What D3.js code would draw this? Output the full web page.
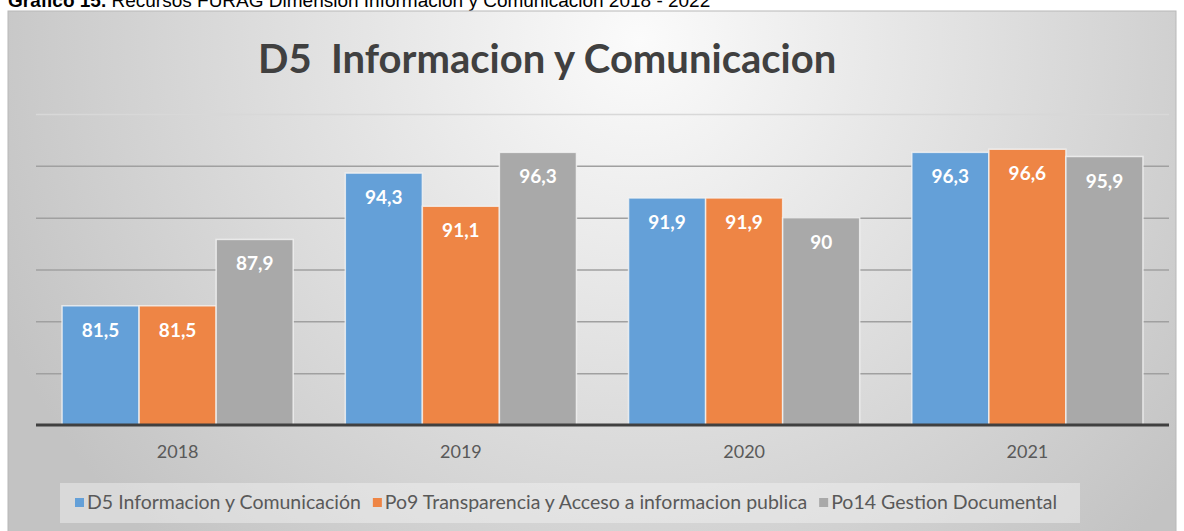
<!DOCTYPE html>
<html>
<head>
<meta charset="utf-8">
<script src="https://cdn.jsdelivr.net/npm/d3@7"></script>
<style>
  html, body { margin: 0; padding: 0; background: #fff; }
  svg { display: block; }
</style>
</head>
<body>
<div id="chart"></div>
<script>
// values
const years = ['2018', '2019', '2020', '2021'];
const seriesNames = [
  'D5 Informacion y Comunicación',
  'Po9 Transparencia y Acceso a informacion publica',
  'Po14 Gestion Documental'
];
const d5 = [81.5, 94.3, 91.9, 96.3];
const po9 = [81.5, 91.1, 91.9, 96.6];
const po14 = [87.9, 96.3, 90, 95.9];
const yTicks = [75, 80, 85, 90, 95, 100];

const colors = ['#64a0d8', '#ee8545', '#a9a9a9'];

const width = 1184, height = 531;
const svg = d3.select('#chart').append('svg')
  .attr('width', width)
  .attr('height', height);

let defs = svg.append('defs');
let grad = defs.append('radialGradient')
  .attr('id', 'bg')
  .attr('gradientUnits', 'userSpaceOnUse')
  .attr('cx', 640).attr('cy', 40).attr('r', 700);
grad.append('stop').attr('offset', 0).attr('stop-color', '#fbfbfb');
grad.append('stop').attr('offset', 1).attr('stop-color', '#c3c3c3');

// caption of the document, cut at the top like in the source
svg.append('text')
  .attr('x', 8)
  .attr('y', 7)
  .style('font', '19px "Liberation Sans", Arial, sans-serif')
  .style('fill', '#000')
  .call(t => {
    t.append('tspan').style('font-weight', 'bold').text('Gráfico 15.');
    t.append('tspan').text(' Recursos FURAG Dimensión Información y Comunicación 2018 - 2022');
  });

// chart area
svg.append('rect')
  .attr('x', 8).attr('y', 11)
  .attr('width', 1168).attr('height', 530)
  .attr('fill', 'url(#bg)')
  .attr('stroke', '#b8b8b8')
  .attr('stroke-width', 1);

svg.append('text')
  .attr('x', 258)
  .attr('y', 73)
  .style('font', 'bold 40px Lato, "Open Sans", sans-serif')
  .style('fill', '#404040')
  .attr('xml:space', 'preserve')
  .text('D5  Informacion y Comunicacion');

let x = d3.scaleBand()
  .domain(years)
  .range([36, 1169])
  .paddingInner(0.184)
  .paddingOuter(0.092);

let x1 = d3.scaleBand()
  .domain(d3.range(seriesNames.length))
  .range([0, x.bandwidth()]);

let y = d3.scaleLinear()
  .domain([70, 100])
  .range([425, 114]);

// gridlines
let yAxis = d3.axisLeft(y)
  .tickValues(yTicks)
  .tickSize(-(1169 - 36))
  .tickFormat('');
svg.append('g')
  .attr('transform', 'translate(36,0)')
  .call(yAxis)
  .call(g => g.select('.domain').remove())
  .call(g => g.selectAll('.tick line')
    .attr('stroke', d => d === 100 ? '#d8d8d8' : '#a0a0a0')
    .attr('stroke-width', 1.5));

let data = [d5, po9, po14];
let rows = years.map((yr, i) => ({
  year: yr,
  values: data.map((s, j) => ({ idx: j, value: s[i] }))
}));

let groups = svg.append('g').selectAll('g')
  .data(rows)
  .enter()
  .append('g')
    .attr('transform', d => `translate(${x(d.year)},0)`);

groups.selectAll('rect')
  .data(d => d.values)
  .enter()
  .append('rect')
    .attr('x', d => x1(d.idx))
    .attr('y', d => y(d.value))
    .attr('width', x1.bandwidth())
    .attr('height', d => y(70) - y(d.value))
    .attr('fill', d => colors[d.idx])
    .attr('stroke', '#f4f4f4')
    .attr('stroke-opacity', 0.8)
    .attr('stroke-width', 1.5);

groups.selectAll('text')
  .data(d => d.values)
  .enter()
  .append('text')
    .attr('x', d => x1(d.idx) + x1.bandwidth() / 2)
    .attr('y', d => y(d.value) + 31)
    .attr('text-anchor', 'middle')
    .style('font', 'bold 19px Lato, "Open Sans", sans-serif')
    .style('fill', '#fff')
    .text(d => String(d.value).replace('.', ','));

// baseline
let xAxis = d3.axisBottom(x).tickSize(0).tickPadding(20);
svg.append('g')
  .attr('transform', `translate(0,${y(70)})`)
  .call(xAxis)
  .call(g => g.select('.domain')
    .attr('d', 'M36,0H1169')
    .attr('stroke', '#404040')
    .attr('stroke-width', 3))
  .call(g => g.selectAll('.tick text')
    .style('font', '18px Lato, "Open Sans", sans-serif')
    .style('fill', '#595959'));

// legend
svg.append('rect')
  .attr('x', 60).attr('y', 483)
  .attr('width', 1020).attr('height', 40)
  .attr('fill', '#f4f4f4')
  .attr('fill-opacity', 0.45);

let legend = svg.append('g');
let lx = 75;
seriesNames.forEach((name, i) => {
  legend.append('rect')
    .attr('x', lx).attr('y', 498)
    .attr('width', 9).attr('height', 9)
    .attr('fill', colors[i]);
  let t = legend.append('text')
    .attr('x', lx + 12)
    .attr('y', 509)
    .style('font', '19.5px Lato, "Open Sans", sans-serif')
    .style('fill', '#595959')
    .text(name);
  lx += 12 + t.node().getComputedTextLength() + 12;
});
</script>
</body>
</html>
